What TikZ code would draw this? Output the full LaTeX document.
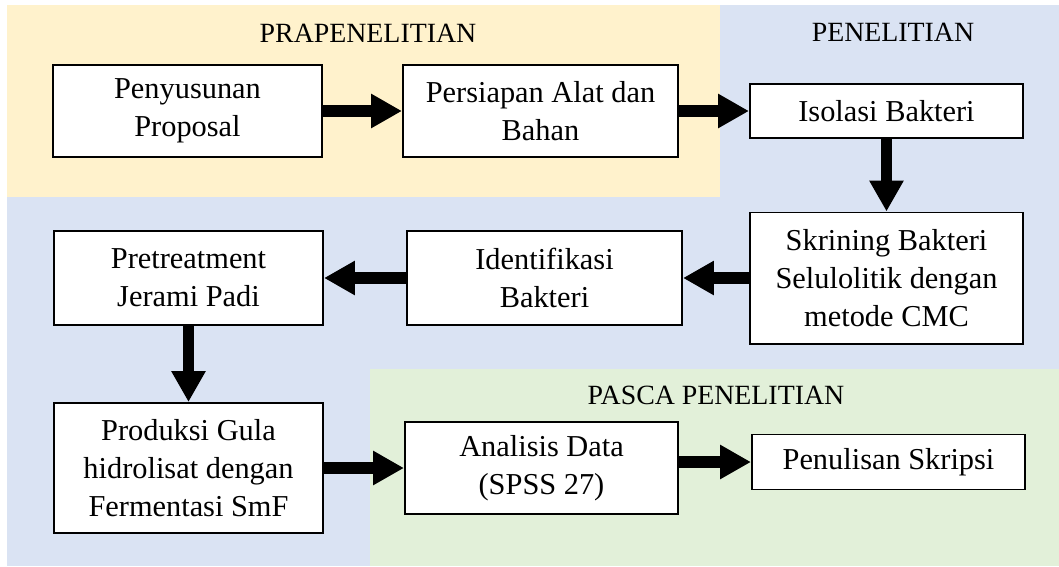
\documentclass[tikz,border=0pt]{standalone}
\usepackage{fontspec}
\setmainfont{Liberation Serif}
\usepackage{xcolor}
\usetikzlibrary{arrows.meta}
\definecolor{praorange}{HTML}{FFF2CC}
\definecolor{penblue}{HTML}{DAE3F3}
\definecolor{pascagreen}{HTML}{E2F0D9}

\begin{document}
\begin{tikzpicture}[x=0.025cm, y=-0.025cm,
    box/.style={draw, line width=1.4pt, fill=white, align=center, inner sep=2pt,
        font=\fontsize{21.6}{27}\selectfont},
    phase/.style={font=\fontsize{19.8}{24}\selectfont},
    flow/.style={line width=8pt, -{Triangle[length=22pt, width=23pt]}}]
    \useasboundingbox (0,0) rectangle (1059,566);

    % Phase areas
    \fill[penblue] (7,5) rectangle (1059,566);
    \fill[praorange] (7,5) rectangle (720,197);
    \fill[pascagreen] (370,369) rectangle (1059,566);
    \node[phase] (pra) at (368,33) {PRAPENELITIAN};
    \node[phase] (pen) at (893,32) {PENELITIAN};
    \node[phase] (pasca) at (716,395) {PASCA PENELITIAN};

    % Steps
    \node[box, minimum width=6.725cm, minimum height=2.3cm] (proposal) at (187.5,111) {Penyusunan\\Proposal};
    \node[box, minimum width=6.875cm, minimum height=2.3cm] (alat) at (540.5,111) {Persiapan Alat dan\\Bahan};
    \node[box, minimum width=6.825cm, minimum height=1.35cm] (isolasi) at (886.5,111) {Isolasi Bakteri};
    \node[box, minimum width=6.825cm, minimum height=3.275cm] (skrining) at (886.5,278) {Skrining Bakteri\\Selulolitik dengan\\metode CMC};
    \node[box, minimum width=6.875cm, minimum height=2.35cm] (identifikasi) at (544.5,278) {Identifikasi\\Bakteri};
    \node[box, minimum width=6.725cm, minimum height=2.35cm] (pretreatment) at (188.5,278) {Pretreatment\\Jerami Padi};
    \node[box, minimum width=6.725cm, minimum height=3.25cm] (produksi) at (188.5,468) {Produksi Gula\\hidrolisat dengan\\Fermentasi SmF};
    \node[box, minimum width=6.825cm, minimum height=2.3cm] (analisis) at (541.5,468) {Analisis Data\\(SPSS 27)};
    \node[box, minimum width=6.825cm, minimum height=1.375cm] (skripsi) at (888.5,462) {Penulisan Skripsi};

    % Flow
    \draw[flow] (proposal) -- (alat);
    \draw[flow] (alat) -- (isolasi);
    \draw[flow] (isolasi) -- (skrining);
    \draw[flow] (skrining) -- (identifikasi);
    \draw[flow] (identifikasi) -- (pretreatment);
    \draw[flow] (pretreatment) -- (produksi);
    \draw[flow] (produksi) -- (analisis);
    \draw[flow] (analisis.east |- skripsi) -- (skripsi);
\end{tikzpicture}
\end{document}
